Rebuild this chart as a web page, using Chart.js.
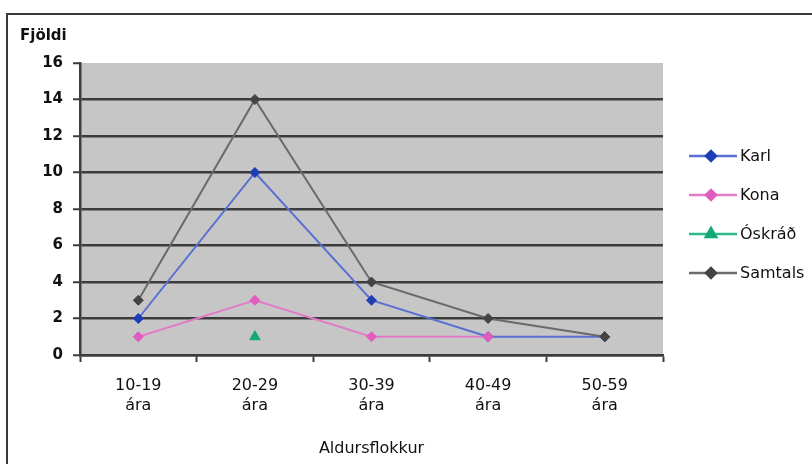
<!DOCTYPE html>
<html lang="is">
  <head>
    <meta charset="UTF-8" />
    <title>Fjöldi eftir aldursflokki</title>
    <script src="https://cdn.jsdelivr.net/npm/chart.js"></script>
    <style>
      body { margin: 0; background: #fff; }
      #wrap { position: relative; width: 812px; height: 464px; overflow: hidden; }
      #frame {
        position: absolute; left: 6px; top: 13px; width: 840px; height: 480px;
        border-left: 2px solid #3a3a3a; border-top: 2px solid #3a3a3a;
      }
      #chart { position: absolute; left: 0; top: 0; }
    </style>
  </head>
  <body>
    <div id="wrap">
      <div id="frame"></div>
      <canvas id="chart" width="812" height="464"></canvas>
    </div>
    <script>
      const categories = [
        ["10-19", "ára"],
        ["20-29", "ára"],
        ["30-39", "ára"],
        ["40-49", "ára"],
        ["50-59", "ára"],
      ];
      const karl = [2, 10, 3, 1, 1];
      const kona = [1, 3, 1, 1, null];
      const oskrad = [null, 1, null, null, null];
      const samtals = [3, 14, 4, 2, 1];
      const yTicks = [0, 2, 4, 6, 8, 10, 12, 14, 16];

      const dark = "#3c3c3c";

      const plotBg = {
        id: "plotBg",
        beforeDraw(chart) {
          const { ctx, chartArea: a } = chart;
          ctx.save();
          ctx.fillStyle = "#c6c6c6";
          ctx.fillRect(a.left, a.top, a.right - a.left, a.bottom - a.top);
          ctx.restore();
        },
      };

      const sideLegend = {
        id: "sideLegend",
        afterDraw(chart) {
          const ctx = chart.ctx;
          ctx.save();
          ctx.font = "bold 15px 'DejaVu Sans'";
          ctx.fillStyle = "#111";
          ctx.textBaseline = "middle";
          ctx.textAlign = "left";
          ctx.fillText("Fjöldi", 20, 36);

          ctx.font = "16px 'DejaVu Sans'";
          chart.data.datasets.forEach((ds, i) => {
            const y = 156 + i * 39;
            ctx.strokeStyle = ds.borderColor;
            ctx.lineWidth = 2.5;
            ctx.beginPath();
            ctx.moveTo(689, y);
            ctx.lineTo(737, y);
            ctx.stroke();
            ctx.fillStyle = ds.pointBackgroundColor;
            ctx.strokeStyle = ds.pointBackgroundColor;
            Chart.helpers.drawPoint(
              ctx,
              { pointStyle: ds.pointStyle, radius: ds.pointRadius, borderWidth: 1, rotation: 0 },
              711,
              y
            );
            ctx.fillStyle = "#111";
            ctx.fillText(ds.label, 740, y + 1);
          });
          ctx.restore();
        },
      };

      const datas = {
        labels: categories,
        datasets: [
          {
            label: "Karl",
            data: karl,
            borderColor: "#5a6fd2",
            pointBackgroundColor: "#1f3db4",
            pointBorderColor: "#1f3db4",
            pointStyle: "rectRot",
            pointRadius: 5,
            order: 4,
          },
          {
            label: "Kona",
            data: kona,
            borderColor: "#e27cc6",
            pointBackgroundColor: "#e05cbf",
            pointBorderColor: "#e05cbf",
            pointStyle: "rectRot",
            pointRadius: 5,
            order: 3,
          },
          {
            label: "Óskráð",
            data: oskrad,
            borderColor: "#2fb88a",
            pointBackgroundColor: "#14a878",
            pointBorderColor: "#14a878",
            pointStyle: "triangle",
            pointRadius: 6,
            order: 2,
          },
          {
            label: "Samtals",
            data: samtals,
            borderColor: "#6a6a6a",
            pointBackgroundColor: "#444",
            pointBorderColor: "#444",
            pointStyle: "rectRot",
            pointRadius: 5,
            order: 1,
          },
        ],
      };

      const config = {
        type: "line",
        data: datas,
        plugins: [plotBg, sideLegend],
        options: {
          responsive: false,
          animation: false,
          spanGaps: false,
          elements: {
            line: { borderWidth: 2, tension: 0 },
            point: { borderWidth: 1 },
          },
          layout: { padding: { top: 63, right: 149, left: 0, bottom: 0 } },
          plugins: { legend: { display: false }, tooltip: { enabled: false } },
          scales: {
            x: {
              offset: true,
              afterFit: (s) => { s.height = 109; },
              grid: {
                offset: true,
                drawOnChartArea: false,
                tickLength: 7,
                tickColor: dark,
                tickWidth: 2,
              },
              border: { color: dark, width: 2.5 },
              ticks: {
                color: "#111",
                padding: 14,
                maxRotation: 0,
                font: { family: "'DejaVu Sans'", size: 16, lineHeight: 1.25 },
              },
              title: {
                display: true,
                text: "Aldursflokkur",
                color: "#111",
                font: { family: "'DejaVu Sans'", size: 16 },
                padding: { top: 0, bottom: 6 },
              },
            },
            y: {
              min: 0,
              max: 16,
              afterFit: (s) => { s.width = 80; },
              afterBuildTicks: (s) => { s.ticks = yTicks.map((v) => ({ value: v })); },
              grid: {
                color: (c) => (c.tick && c.tick.value === 16 ? "rgba(0,0,0,0)" : dark),
                lineWidth: 2.5,
                tickLength: 7,
                tickColor: dark,
                tickWidth: 2,
              },
              border: { color: dark, width: 2.5 },
              ticks: {
                color: "#111",
                padding: 10,
                font: { family: "'DejaVu Sans'", size: 15, weight: "bold" },
              },
            },
          },
        },
      };

      new Chart(document.getElementById("chart"), config);
    </script>
  </body>
</html>
